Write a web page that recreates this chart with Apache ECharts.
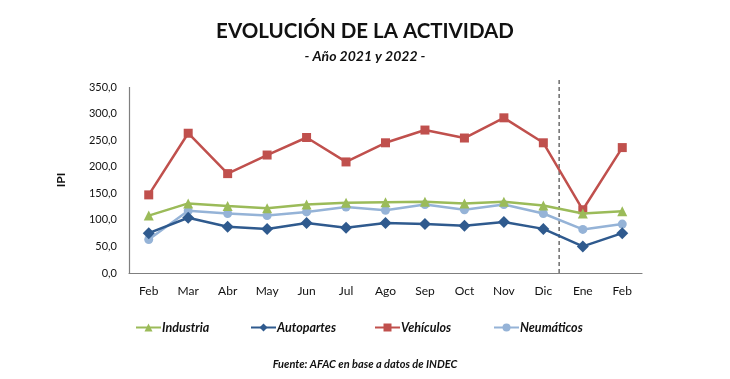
<!DOCTYPE html>
<html><head><meta charset="utf-8">
<script src="https://cdn.jsdelivr.net/npm/echarts@6/dist/echarts.min.js"></script>
<style>html,body{margin:0;padding:0;background:#fff}#c{width:730px;height:379px}</style>
</head><body><div id="c"></div>
<script>
const categories = ["Feb","Mar","Abr","May","Jun","Jul","Ago","Sep","Oct","Nov","Dic","Ene","Feb"];
const industria  = [108,131,126,122,129,132,133,134,131,134,127,112,116];
const autopartes = [75,104,87,83,94,85,94,92,89,96,83,50,75];
const vehiculos  = [147,263,187,222,255,209,245,269,254,292,245,119,236];
const neumaticos = [63,117,112,108,115,124,118,129,119,129,112,82,92];
const yTicks = [0,50,100,150,200,250,300,350];
const dividerPos = [10.4];

const F = 'Lato, "Open Sans", sans-serif';
const chart = echarts.init(document.getElementById('c'));
const names = ["Industria","Autopartes","Vehículos","Neumáticos"];
const colors = ["#9BBB59","#2F5A8E","#C0504D","#95B3D7"];
const symbols = ["triangle","diamond","rect","circle"];
const sizes = [10,12,9,9];
const datas = [industria, autopartes, vehiculos, neumaticos];
const legendLeft = [130,245,369,488];
const xMin = -0.5, xMax = categories.length - 0.5;
const yMin = yTicks[0], yMax = yTicks[yTicks.length-1];

chart.setOption({
  animation:false,
  title:[
    {text:"EVOLUCIÓN DE LA ACTIVIDAD", left:'center', top:16, textStyle:{fontFamily:F,fontSize:20.5,fontWeight:'bold',color:'#111'}},
    {text:"- Año 2021 y 2022 -", left:'center', top:44, textStyle:{fontFamily:F,fontSize:14,fontWeight:'bold',fontStyle:'italic',color:'#111'}},
    {text:"Fuente: AFAC en base a datos de INDEC", left:'center', top:354, textStyle:{fontFamily:F,fontSize:11,fontWeight:'bold',fontStyle:'italic',color:'#111'}}
  ],
  legend: names.map((n,i)=>({
    data:[n], left:legendLeft[i], top:316, itemWidth:25, itemHeight:10, itemGap:0,
    textStyle:{fontFamily:F,fontSize:12.5,fontWeight:'bold',fontStyle:'italic',color:'#111',padding:[0,0,0,-4]}
  })),
  grid:{left:129,right:88,top:87,bottom:106},
  xAxis:[
    {type:'category', data:categories, boundaryGap:true,
     axisLine:{lineStyle:{color:'#7f7f7f',width:1.2}}, axisTick:{show:false},
     axisLabel:{fontFamily:F,fontSize:12,color:'#111',margin:12}},
    {type:'value', min:xMin, max:xMax, show:false, axisLine:{show:false}}
  ],
  yAxis:{type:'value', min:yMin, max:yMax, interval:50, name:'IPI', nameLocation:'middle', nameGap:62,
    nameTextStyle:{fontFamily:F,fontSize:12,fontWeight:'bold',color:'#111'},
    axisLine:{show:false}, axisTick:{show:false}, splitLine:{show:false},
    axisLabel:{fontFamily:F,fontSize:11,color:'#111',margin:12,
      formatter:v=> yTicks.includes(v) ? v.toFixed(1).replace('.',',') : ''}},
  series: names.map((n,i)=>({
    name:n, type:'line', data:datas[i], symbol:symbols[i], symbolSize:sizes[i],
    lineStyle:{color:colors[i],width:2.5}, itemStyle:{color:colors[i]}, z:10-i
  })).concat([
    {type:'line', xAxisIndex:1, data:[[dividerPos[0],yMin],[dividerPos[0],367]], symbol:'none', clip:false,
     lineStyle:{color:'#555',width:1.3,type:[4,3]}, silent:true, z:1}
  ])
});

// y-axis line, positioned through the chart's own scales
const pTop = chart.convertToPixel({xAxisIndex:1, yAxisIndex:0}, [xMin, yMax]);
const pBot = chart.convertToPixel({xAxisIndex:1, yAxisIndex:0}, [xMin, yMin]);
const xl = Math.round(pTop[0]) + 0.5;
chart.setOption({
  graphic:[{type:'line', z:100, silent:true,
    shape:{x1:xl, y1:pTop[1], x2:xl, y2:pBot[1]},
    style:{stroke:'#7f7f7f', lineWidth:1.2}}]
});
</script></body></html>
